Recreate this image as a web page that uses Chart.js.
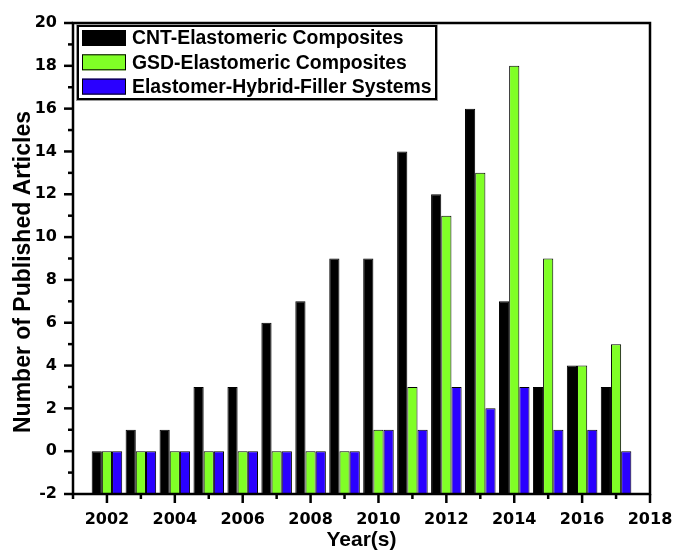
<!DOCTYPE html>
<html>
<head>
<meta charset="utf-8">
<script src="https://cdn.jsdelivr.net/npm/chart.js@4/dist/chart.umd.min.js"></script>
<style>
  html, body { margin: 0; padding: 0; background: #fff; }
  #wrap { width: 676px; height: 552px; }
</style>
</head>
<body>
<div id="wrap"><canvas id="c" width="676" height="552"></canvas></div>
<script>
// Publication counts per year for each family of composites
const years = [2002, 2003, 2004, 2005, 2006, 2007, 2008, 2009, 2010, 2011, 2012, 2013, 2014, 2015, 2016, 2017];
const cntValues    = [0, 1, 1, 3, 3, 6, 7, 9, 9, 14, 12, 16, 7, 3, 4, 3];
const gsdValues    = [0, 0, 0, 0, 0, 0, 0, 0, 1, 3, 11, 13, 18, 9, 4, 5];
const hybridValues = [0, 0, 0, 0, 0, 0, 0, 0, 1, 1, 3, 2, 3, 1, 1, 0];

const seriesNames = ['CNT-Elastomeric Composites', 'GSD-Elastomeric Composites', 'Elastomer-Hybrid-Filler Systems'];

const xTickValues = [2002, 2004, 2006, 2008, 2010, 2012, 2014, 2016, 2018];
const xMinorValues = [2001, 2003, 2005, 2007, 2009, 2011, 2013, 2015, 2017];
const yTickValues = [-2, 0, 2, 4, 6, 8, 10, 12, 14, 16, 18, 20];
const yMinorValues = [-1, 1, 3, 5, 7, 9, 11, 13, 15, 17, 19];

const xTitle = 'Year(s)';
const yTitle = 'Number of Published Articles';

const COLORS = ['#000000', '#80ff26', '#2a00ff'];
const tickFont = { family: 'DejaVu Sans', size: 16, weight: 'bold' };

function series(values) {
  return years.map((y, i) => ({ x: y, y: values[i] }));
}

function makeDataset(label, values, color) {
  return {
    label: label,
    data: series(values),
    backgroundColor: color,
    borderColor: '#000',
    borderWidth: 1,
    borderSkipped: false,
    base: -2,
    categoryPercentage: 0.9,
    barPercentage: 1.0
  };
}

// Frame, minor/major tick marks, axis titles and the boxed legend
const decorations = {
  id: 'decorations',
  afterDraw(chart) {
    const ctx = chart.ctx;
    const a = chart.chartArea;
    const xs = chart.scales.x;
    const ys = chart.scales.y;
    ctx.save();
    ctx.strokeStyle = '#000';
    ctx.lineCap = 'butt';

    // ticks on the bottom axis
    ctx.lineWidth = 2.5;
    xTickValues.forEach(v => {
      const px = xs.getPixelForValue(v);
      ctx.beginPath(); ctx.moveTo(px, a.bottom); ctx.lineTo(px, a.bottom + 9); ctx.stroke();
    });
    xMinorValues.forEach(v => {
      const px = xs.getPixelForValue(v);
      ctx.beginPath(); ctx.moveTo(px, a.bottom); ctx.lineTo(px, a.bottom + 5); ctx.stroke();
    });
    // ticks on the left axis
    yTickValues.forEach(v => {
      const py = ys.getPixelForValue(v);
      ctx.beginPath(); ctx.moveTo(a.left, py); ctx.lineTo(a.left - 9, py); ctx.stroke();
    });
    yMinorValues.forEach(v => {
      const py = ys.getPixelForValue(v);
      ctx.beginPath(); ctx.moveTo(a.left, py); ctx.lineTo(a.left - 5, py); ctx.stroke();
    });

    // plot frame
    ctx.lineWidth = 2.5;
    ctx.strokeRect(a.left, a.top, a.right - a.left, a.bottom - a.top);

    // axis titles
    ctx.fillStyle = '#000';
    ctx.textAlign = 'center';
    ctx.textBaseline = 'middle';
    ctx.font = 'bold 21px "Liberation Sans", Arial, sans-serif';
    ctx.fillText(xTitle, (a.left + a.right) / 2, 540);
    ctx.save();
    ctx.translate(24, 272);
    ctx.rotate(-Math.PI / 2);
    ctx.font = 'bold 23px "Liberation Sans", Arial, sans-serif';
    ctx.fillText(yTitle, 0, 0);
    ctx.restore();

    // legend
    const lx = 77, ly = 25, lw = 360, lh = 75;
    ctx.fillStyle = '#fff';
    ctx.fillRect(lx, ly, lw, lh);
    ctx.strokeStyle = '#9a9a9a';
    ctx.lineWidth = 1;
    ctx.strokeRect(lx - 0.5, ly - 0.5, lw + 1, lh + 1);
    ctx.strokeStyle = '#000';
    ctx.lineWidth = 2;
    ctx.strokeRect(lx + 1, ly + 1, lw - 2, lh - 2);
    ctx.font = 'bold 19.4px "Liberation Sans", Arial, sans-serif';
    ctx.textAlign = 'left';
    chart.data.datasets.forEach((ds, i) => {
      const cy = 38 + i * 24.3;
      ctx.fillStyle = ds.backgroundColor;
      ctx.fillRect(82, cy - 8, 44, 16);
      ctx.strokeStyle = '#000';
      ctx.lineWidth = 1;
      ctx.strokeRect(82.5, cy - 7.5, 43, 15);
      ctx.fillStyle = '#000';
      ctx.fillText(ds.label, 132, cy + 1);
    });
    ctx.restore();
  }
};

new Chart(document.getElementById('c'), {
  type: 'bar',
  data: {
    datasets: [
      makeDataset(seriesNames[0], cntValues, COLORS[0]),
      makeDataset(seriesNames[1], gsdValues, COLORS[1]),
      makeDataset(seriesNames[2], hybridValues, COLORS[2])
    ]
  },
  options: {
    responsive: false,
    animation: false,
    devicePixelRatio: 1,
    layout: { padding: { left: 0, right: 26, top: 23, bottom: 0 } },
    plugins: {
      legend: { display: false },
      tooltip: { enabled: false },
      title: { display: false }
    },
    scales: {
      x: {
        type: 'linear',
        min: 2001,
        max: 2018,
        offset: false,
        grid: { display: false, drawTicks: false },
        border: { display: false },
        afterBuildTicks: s => { s.ticks = xTickValues.map(v => ({ value: v })); },
        afterFit: s => { s.height = 58; s.paddingLeft = 0; s.paddingRight = 0; },
        ticks: {
          font: tickFont,
          color: '#000',
          padding: 16,
          maxRotation: 0,
          autoSkip: false,
          callback: v => String(v)
        }
      },
      y: {
        min: -2,
        max: 20,
        grid: { display: false, drawTicks: false },
        border: { display: false },
        afterBuildTicks: s => { s.ticks = yTickValues.map(v => ({ value: v })); },
        afterFit: s => { s.width = 73; s.paddingTop = 0; s.paddingBottom = 0; },
        ticks: {
          font: tickFont,
          color: '#000',
          padding: 16,
          autoSkip: false
        }
      }
    }
  },
  plugins: [decorations]
});
</script>
</body>
</html>
